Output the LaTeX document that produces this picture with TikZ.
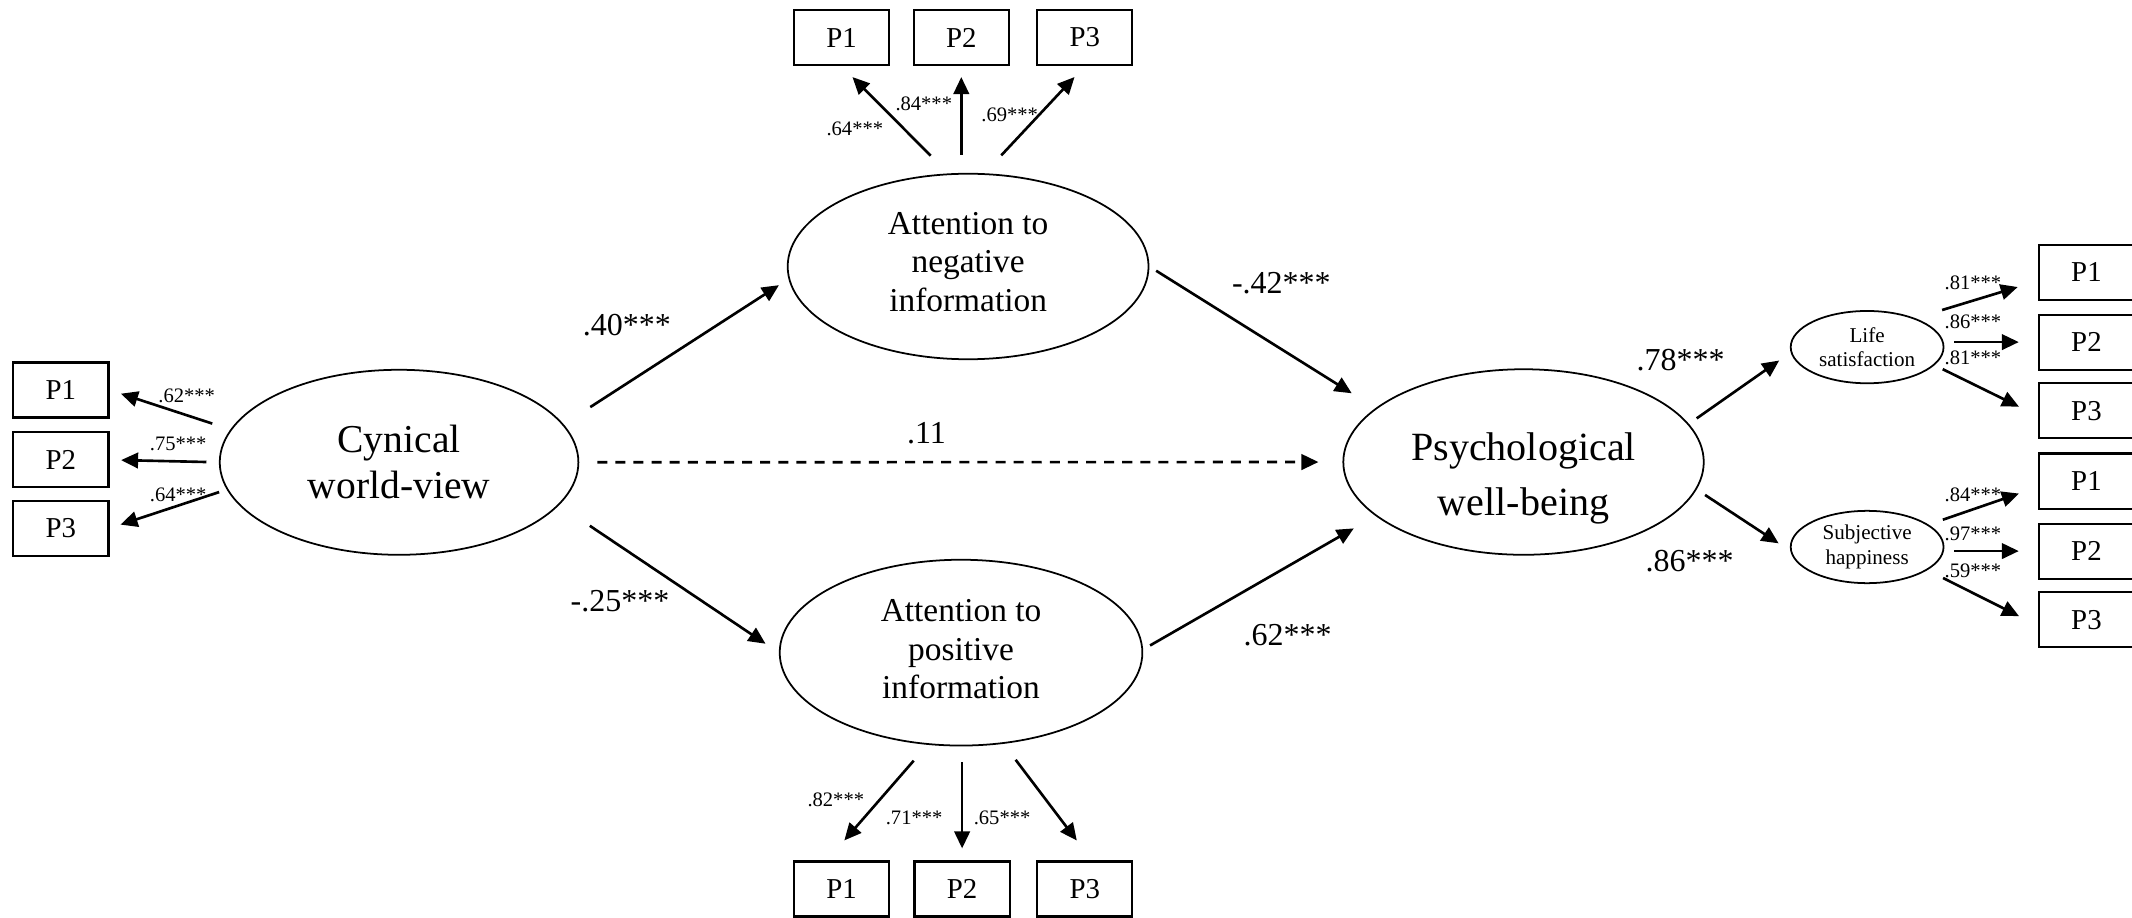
\documentclass[tikz,border=0pt]{standalone}
\usepackage{fontspec}
\setmainfont{Liberation Serif}
\usetikzlibrary{arrows.meta,shapes.geometric}

\begin{document}
\begin{tikzpicture}[x=0.0136cm, y=-0.0136cm,
  latent/.style={ellipse, draw, line width=0.5pt, inner sep=0pt, align=center},
  item/.style={rectangle, draw, line width=0.6pt,
               minimum width=0.952cm, minimum height=0.55cm,
               inner sep=0pt, font=\fontsize{8.2}{9}\selectfont},
  effect/.style={-{Triangle[length=0.17cm,width=0.155cm]}, line width=0.75pt},
  coef/.style={inner sep=0pt, font=\fontsize{9.1}{10}\selectfont},
  load/.style={inner sep=0pt, font=\fontsize{5.85}{6.5}\selectfont}]
\useasboundingbox (0,0) rectangle (1568,675);

% latent variables
\node[latent,
      minimum width=3.586cm,
      minimum height=1.85cm,
      font=\fontsize{11.25}{13}\selectfont] (cyn) at (293.5,340)
{Cynical\\world-view};
\node[latent,
      minimum width=3.608cm,
      minimum height=1.855cm] (neg) at (712,196) {};
\node[align=center, inner sep=0pt,
      font=\fontsize{9.5}{11}\selectfont] (negtext) at ([yshift=0.045cm]neg.center)
{Attention to\\negative\\information};
\node[latent,
      minimum width=3.626cm,
      minimum height=1.858cm] (pos) at (706.8,480) {};
\node[align=center, inner sep=0pt,
      font=\fontsize{9.5}{11}\selectfont] (postext) at ([yshift=0.035cm]pos.center)
{Attention to\\positive\\information};
\node[latent,
      minimum width=3.604cm,
      minimum height=1.855cm] (pwb) at (1120.5,339.8) {};
\node[align=center, inner sep=0pt,
      font=\fontsize{11.4}{15.5}\selectfont] (pwbtext) at ([yshift=-0.165cm]pwb.center)
{Psychological\\well-being};
\node[latent,
      minimum width=1.528cm,
      minimum height=0.723cm,
      font=\fontsize{6}{7}\selectfont] (life) at (1373.2,255.3)
{Life\\satisfaction};
\node[latent,
      minimum width=1.528cm,
      minimum height=0.723cm,
      font=\fontsize{6}{7}\selectfont] (subj) at (1373.2,402.3)
{Subjective\\happiness};

% indicators
\node[item] (lp1) at (44.75,286.8) {P1};
\node[item] (lp2) at (44.75,338.2) {P2};
\node[item] (lp3) at (44.75,388.5) {P3};

\node[item] (tp1) at (618.9,27.6) {P1};
\node[item] (tp2) at (707,27.6) {P2};
\node[item] (tp3) at (797.8,27.6) {P3};

\node[item] (bp1) at (618.9,653.8) {P1};
\node[item] (bp2) at (707.6,653.8) {P2};
\node[item] (bp3) at (797.8,653.8) {P3};

\node[item] (rp1) at (1534.5,200.3) {P1};
\node[item] (rp2) at (1534.5,251.6) {P2};
\node[item] (rp3) at (1534.5,302.1) {P3};
\node[item] (rp4) at (1534.5,353.8) {P1};
\node[item] (rp5) at (1534.5,405.3) {P2};
\node[item] (rp6) at (1534.5,455.7) {P3};

% loadings
\draw[effect, shorten <=0.19cm, shorten >=0.12cm] (cyn.169) -- (lp1.east);
\draw[effect, shorten <=0.124cm, shorten >=0.116cm] (cyn.west) -- (lp2.east);
\draw[effect, shorten <=0.08cm, shorten >=0.116cm] (cyn.189) -- (lp3.east);

\draw[effect, shorten <=0.25cm, shorten >=0.155cm] (neg.102) -- (tp1.south);
\draw[effect, shorten <=0.18cm, shorten >=0.11cm] (neg.north -| tp2.south) -- (tp2.south);
\draw[effect, shorten <=0.245cm, shorten >=0.15cm] (neg.80) -- (tp3.south);

\draw[effect, shorten <=0.21cm, shorten >=0.265cm] (pos.250) -- (bp1.117);
\draw[effect, shorten <=0.16cm, shorten >=0.12cm] (pos.south -| bp2.north) -- (bp2.north);
\draw[effect, shorten <=0.2cm, shorten >=0.25cm] (pos.295) -- (bp3.76);

\draw[effect, shorten <=0.28cm, shorten >=0.21cm] (life.31) -- (rp1.190);
\draw[effect, shorten <=0.1cm, shorten >=0.19cm] (life.east |- rp2.west) -- (rp2.west);
\draw[effect, shorten <=0.09cm, shorten >=0.21cm] (life.345) -- (rp3.186);
\draw[effect, shorten <=0.15cm, shorten >=0.2cm] (subj.20) -- (rp4.187);
\draw[effect, shorten <=0.1cm, shorten >=0.19cm] (subj.east |- rp5.west) -- (rp5.west);
\draw[effect, shorten <=0.175cm, shorten >=0.21cm] (subj.339) -- (rp6.187);

% structural paths
\draw[effect, shorten <=0.317cm, shorten >=0.113cm] (cyn.13) -- (neg.184);
\draw[effect, shorten <=0.37cm, shorten >=0.16cm] (cyn.345) -- (pos.west);
\draw[effect, dash pattern=on 2.85pt off 2.3pt,
      shorten <=0.18cm, shorten >=0.24cm] (cyn.east) -- (pwb.west);
\draw[effect, shorten <=0.08cm, shorten >=0.28cm] (neg.east) -- (pwb.160);
\draw[effect, shorten <=0.08cm, shorten >=0.25cm] (pos.1) -- (pwb.200);
\draw[effect, shorten <=0.095cm, shorten >=0.14cm] (pwb.13) -- (life.184);
\draw[effect, shorten <=0.1cm, shorten >=0.14cm] (pwb.351) -- (subj.183);

% coefficients
\node[coef] (k1) at (461,239) {.40***};
\node[coef] (k2) at (456,442.4) {-.25***};
\node[coef] (k3) at (681.4,318.6) {.11};
\node[coef] (k4) at (942.4,208.3) {-.42***};
\node[coef] (k5) at (947,467) {.62***};
\node[coef] (k6) at (1236,265) {.78***};
\node[coef] (k7) at (1242.6,413) {.86***};

\node[load] (m1) at (137.3,291.2) {.62***};
\node[load] (m2) at (131.1,326.5) {.75***};
\node[load] (m3) at (131.1,364) {.64***};
\node[load] (m4) at (628.7,94.4) {.64***};
\node[load] (m5) at (679.4,76.5) {.84***};
\node[load] (m6) at (742.6,84.6) {.69***};
\node[load] (m7) at (614.7,588.2) {.82***};
\node[load] (m8) at (672.3,601.7) {.71***};
\node[load] (m9) at (737,601.7) {.65***};
\node[load] (m10) at (1451,208.3) {.81***};
\node[load] (m11) at (1451,236.5) {.86***};
\node[load] (m12) at (1451,263.5) {.81***};
\node[load] (m13) at (1451,364) {.84***};
\node[load] (m14) at (1451,392.6) {.97***};
\node[load] (m15) at (1451,419.6) {.59***};
\end{tikzpicture}
\end{document}
